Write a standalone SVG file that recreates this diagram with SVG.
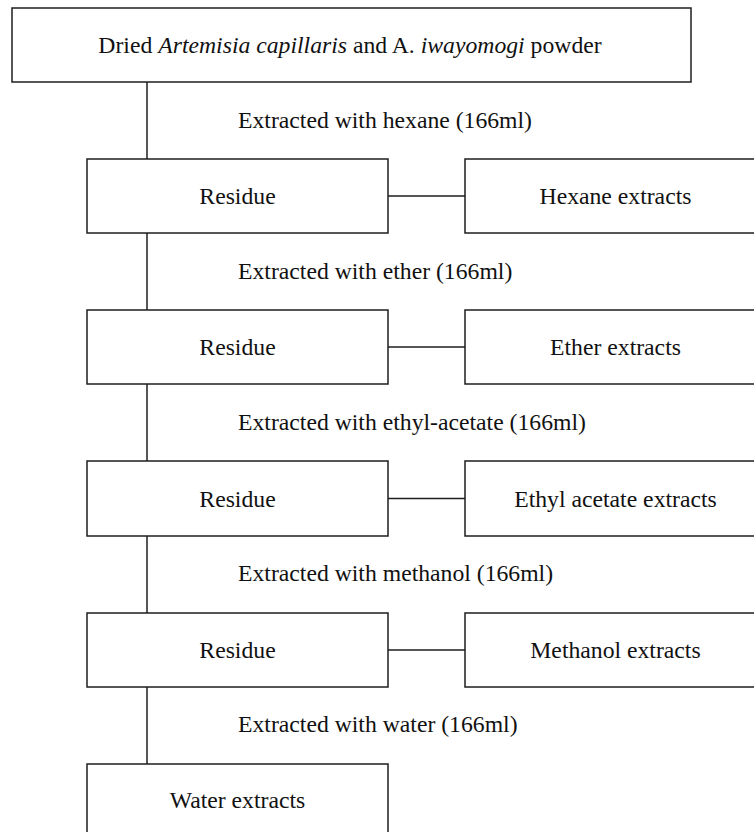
<svg xmlns="http://www.w3.org/2000/svg" width="754" height="832" viewBox="0 0 754 832">
<style>
  .box { fill: #ffffff; stroke: #1e1e1e; stroke-width: 1.5; }
  .ln { fill: none; stroke: #1e1e1e; stroke-width: 1.5; }
  text { font-family: "Liberation Serif", "Times New Roman", serif; font-size: 23.7px; fill: #111111; }
  .c { text-anchor: middle; }
  .i { font-style: italic; }
</style>
<rect width="754" height="832" fill="#ffffff"/>
<g id="connectors">
  <line class="ln" x1="147" y1="82" x2="147" y2="159"/>
  <line class="ln" x1="147" y1="233" x2="147" y2="310"/>
  <line class="ln" x1="147" y1="384" x2="147" y2="461"/>
  <line class="ln" x1="147" y1="536" x2="147" y2="613"/>
  <line class="ln" x1="147" y1="687" x2="147" y2="764"/>
  <line class="ln" x1="388" y1="196" x2="465" y2="196"/>
  <line class="ln" x1="388" y1="347" x2="465" y2="347"/>
  <line class="ln" x1="388" y1="498.5" x2="465" y2="498.5"/>
  <line class="ln" x1="388" y1="650" x2="465" y2="650"/>
  <text x="238" y="127.5">Extracted with hexane (166ml)</text>
  <text x="238" y="278.5">Extracted with ether (166ml)</text>
  <text x="238" y="429.5">Extracted with ethyl-acetate (166ml)</text>
  <text x="238" y="581">Extracted with methanol (166ml)</text>
  <text x="238" y="732">Extracted with water (166ml)</text>
</g>
<g id="start">
  <rect class="box" x="12" y="8" width="679" height="74"/>
  <text class="c" x="350" y="53">Dried <tspan class="i">Artemisia capillaris</tspan> and A. <tspan class="i">iwayomogi</tspan> powder</text>
</g>
<g id="residue1">
  <rect class="box" x="87" y="159" width="301" height="74"/>
  <text class="c" x="237.5" y="204">Residue</text>
</g>
<g id="hexane">
  <rect class="box" x="465" y="159" width="301" height="74"/>
  <text class="c" x="615.5" y="204">Hexane extracts</text>
</g>
<g id="residue2">
  <rect class="box" x="87" y="310" width="301" height="74"/>
  <text class="c" x="237.5" y="355">Residue</text>
</g>
<g id="ether">
  <rect class="box" x="465" y="310" width="301" height="74"/>
  <text class="c" x="615.5" y="355">Ether extracts</text>
</g>
<g id="residue3">
  <rect class="box" x="87" y="461" width="301" height="75"/>
  <text class="c" x="237.5" y="506.5">Residue</text>
</g>
<g id="ethylacetate">
  <rect class="box" x="465" y="461" width="301" height="75"/>
  <text class="c" x="615.5" y="506.5">Ethyl acetate extracts</text>
</g>
<g id="residue4">
  <rect class="box" x="87" y="613" width="301" height="74"/>
  <text class="c" x="237.5" y="658">Residue</text>
</g>
<g id="methanol">
  <rect class="box" x="465" y="613" width="301" height="74"/>
  <text class="c" x="615.5" y="658">Methanol extracts</text>
</g>
<g id="water">
  <rect class="box" x="87" y="764" width="301" height="74"/>
  <text class="c" x="237.5" y="808">Water extracts</text>
</g>
</svg>
